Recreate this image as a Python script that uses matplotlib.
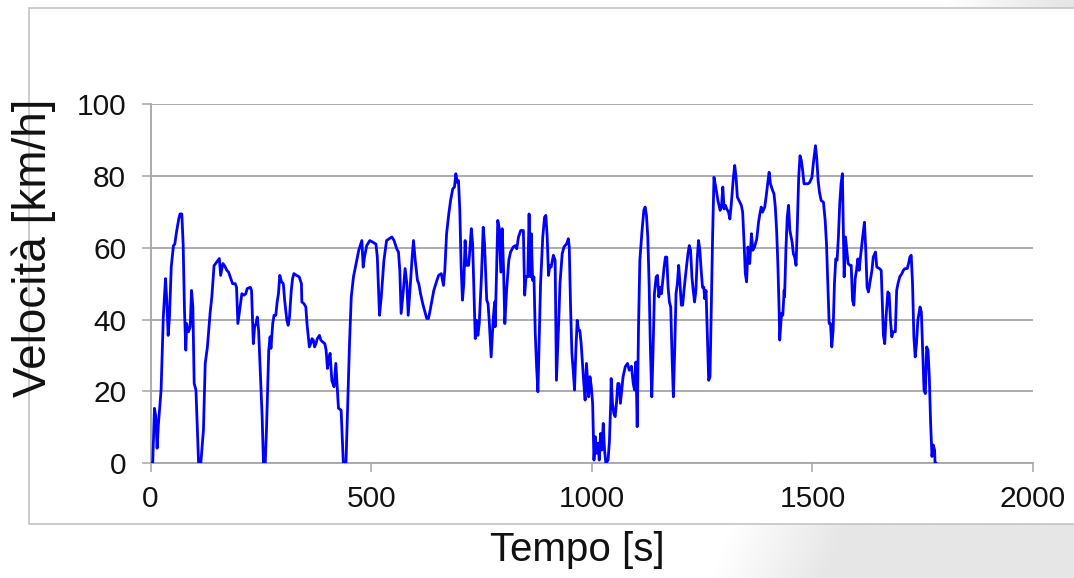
'''
Speed profile of the driving cycle: vehicle speed versus time.
'''
import numpy as np
import matplotlib.pyplot as plt
from matplotlib.patches import Rectangle

plt.rcParams['font.family'] = ['Liberation Sans', 'DejaVu Sans']

# Segment A: start to ~410 s
time_a = [0, 5, 9, 12, 15, 18, 24, 29, 34, 37,
          40, 43, 47, 52, 55, 59, 64, 67, 71, 74,
          77, 80, 82, 86, 90, 93, 96, 99, 103, 109,
          114, 120, 124, 129, 135, 139, 144, 150, 156, 159,
          164, 168, 173, 177, 182, 186, 192, 195, 198, 203,
          207, 212, 216, 219, 226, 229, 233, 236, 239, 242,
          245, 248, 253, 256, 260, 263, 268, 271, 273, 277,
          280, 284, 287, 290, 293, 297, 301, 304, 309, 312,
          315, 319, 322, 325, 331, 337, 342, 343, 348, 352,
          355, 360, 363, 366, 369, 372, 375, 378, 383, 386,
          390, 395, 398, 401, 404, 407]
speed_a = [0, 0, 15.3, 13, 4.2, 11, 20.4, 40.7, 51.4, 45,
           35.6, 40.7, 54.6, 60.6, 61, 64.4, 68, 69.4, 69.4, 61,
           42.6, 31.5, 38.9, 36.6, 38, 48.1, 43.5, 22.2, 20.4, 0,
           0, 9.3, 27.8, 32.4, 41.7, 46.3, 55, 56, 57, 52.3,
           55.6, 55, 53.7, 53.2, 51.4, 50, 50, 49, 38.9, 43.5,
           47.2, 46.8, 47.2, 48.6, 49, 48.1, 33.3, 38, 38.9, 40.7,
           37, 27.8, 13, 0, 0, 10, 31.5, 35.2, 32, 38.9,
           41.2, 41.2, 44.9, 47.2, 52.3, 50.5, 50, 45.4, 39.8, 38.4,
           40.7, 48.1, 51.4, 52.8, 52.3, 51.9, 50, 44.9, 44.4, 43.5,
           38.4, 32.4, 33.3, 34.7, 34.3, 32.4, 33.3, 34.7, 35.6, 34.3,
           33.8, 33.3, 31.5, 26.4, 28.7, 30.6]

# Segment B: ~410 s to ~925 s
time_b = [411, 416, 420, 423, 426, 432, 437, 443, 448, 451,
          455, 460, 466, 472, 479, 482, 485, 490, 497, 503,
          511, 514, 519, 523, 529, 535, 541, 547, 552, 558,
          562, 565, 568, 573, 577, 581, 584, 588, 593, 596,
          600, 605, 608, 612, 617, 621, 626, 630, 633, 638,
          642, 648, 653, 659, 664, 667, 671, 676, 680, 685,
          689, 692, 695, 698, 701, 704, 707, 710, 713, 716,
          721, 724, 727, 730, 733, 736, 739, 742, 745, 750,
          754, 757, 762, 765, 768, 772, 777, 780, 781, 784,
          787, 790, 794, 797, 800, 803, 807, 812, 816, 822,
          827, 830, 834, 839, 845, 848, 851, 855, 858, 861,
          863, 866, 869, 872, 875, 878, 881, 884, 889, 893,
          896, 899, 902, 905, 908, 913, 917, 920, 925]
speed_b = [23, 21.3, 27.8, 21.3, 15.3, 14.8, 0, 0, 20.4, 33.3,
           46.3, 51.9, 55.6, 59.3, 62, 54.6, 57.4, 60.6, 62, 61.6,
           61, 57.4, 41.2, 46.3, 56.5, 62, 62.5, 63, 62, 59.7,
           58.8, 53.7, 41.7, 48.1, 54.2, 50, 41.2, 48.1, 57.4, 62,
           56.5, 50.9, 50, 47.2, 44.4, 42.6, 40.3, 40.3, 42.1, 45.4,
           48.1, 50.5, 52.3, 52.8, 49.5, 53.7, 63.9, 69.4, 73.1, 76.4,
           76.9, 80.6, 78.2, 78.7, 70.4, 54.6, 45.4, 50, 62, 55.1,
           55.1, 59.7, 65.3, 61.1, 48.1, 34.7, 39.8, 35.6, 38.9, 51.9,
           65.7, 61.1, 45.4, 44.4, 38.9, 29.6, 40.7, 44.9, 38, 51.9,
           67.6, 65.7, 53.2, 65.3, 54.6, 38.9, 48.1, 56.5, 58.8, 60.2,
           60.6, 59.7, 63, 64.8, 64.8, 46.8, 51.9, 51.9, 69.4, 51.9,
           63.9, 50.9, 51.9, 36.1, 26.9, 19.9, 35.2, 50, 63, 68.5,
           69, 63, 52.3, 55.1, 54.6, 57.9, 56.5, 23.1, 38.9]

# Segment C: ~925 s to ~1355 s
time_c = [928, 933, 937, 943, 947, 949, 952, 955, 958, 961,
          964, 967, 970, 973, 976, 979, 982, 985, 988, 991,
          993, 996, 999, 1002, 1005, 1008, 1011, 1014, 1017, 1020,
          1023, 1026, 1029, 1032, 1037, 1040, 1043, 1044, 1047, 1050,
          1053, 1056, 1059, 1062, 1065, 1068, 1071, 1076, 1081, 1085,
          1090, 1094, 1097, 1100, 1103, 1106, 1109, 1114, 1118, 1121,
          1124, 1127, 1130, 1133, 1136, 1139, 1142, 1146, 1149, 1152,
          1155, 1158, 1161, 1164, 1167, 1170, 1173, 1176, 1179, 1182,
          1185, 1188, 1191, 1194, 1197, 1200, 1203, 1206, 1209, 1213,
          1218, 1221, 1224, 1227, 1230, 1233, 1236, 1239, 1242, 1245,
          1248, 1251, 1254, 1256, 1259, 1262, 1265, 1268, 1271, 1274,
          1277, 1281, 1286, 1291, 1294, 1297, 1300, 1303, 1306, 1310,
          1313, 1316, 1321, 1324, 1327, 1330, 1334, 1339, 1342, 1345,
          1348, 1351, 1354]
speed_c = [50, 58.3, 60.2, 61.1, 62.5, 60.2, 43.5, 30.6, 25.9, 20.4,
           31.5, 39.8, 37, 37, 33.3, 27.8, 22.2, 17.6, 27.8, 22.2,
           18.5, 24.1, 21.3, 16.7, 0.9, 7.4, 2.8, 5.6, 0.9, 8.3,
           3.7, 11.1, 3.7, 0, 0.9, 6, 16.7, 23.6, 16.7, 13.9,
           13, 16.7, 22.2, 22.2, 16.7, 20.4, 24.1, 26.9, 27.8, 25.9,
           27, 22.2, 20.4, 28.2, 10.2, 38, 56.5, 64.8, 70.4, 71.3,
           69, 63, 50, 31.5, 18.5, 31.5, 47.2, 51.9, 52.3, 46.3,
           49, 47.2, 50.9, 54.6, 57.4, 57.4, 49, 44.9, 43.5, 29.6,
           18.5, 31.5, 47.2, 50, 55.1, 50, 44, 44, 48.1, 52.8,
           58.3, 60.6, 59.3, 51.9, 48.1, 44.9, 48.1, 56.9, 62, 59.3,
           53.7, 49, 49, 45.8, 48.1, 35.2, 23.1, 24.1, 43.5, 63.9,
           79.6, 76.9, 73.1, 70.4, 71.3, 76.9, 70.8, 71.8, 70.8, 69.9,
           68, 71.8, 79.6, 82.9, 79.6, 74.1, 73.1, 71.8, 69.9, 62,
           52.8, 50.5, 60.2]

# Segment D: ~1355 s to the end of the cycle
time_d = [1358, 1362, 1365, 1369, 1374, 1378, 1381, 1384, 1387, 1392,
          1396, 1399, 1402, 1405, 1410, 1413, 1416, 1419, 1422, 1425,
          1426, 1430, 1433, 1436, 1437, 1440, 1443, 1446, 1449, 1454,
          1457, 1460, 1463, 1466, 1469, 1472, 1475, 1478, 1481, 1485,
          1490, 1494, 1499, 1502, 1507, 1510, 1513, 1516, 1520, 1525,
          1529, 1532, 1535, 1538, 1541, 1544, 1547, 1550, 1553, 1556,
          1559, 1562, 1565, 1568, 1572, 1575, 1578, 1581, 1585, 1588,
          1591, 1594, 1597, 1600, 1603, 1606, 1609, 1614, 1618, 1621,
          1624, 1627, 1630, 1635, 1638, 1643, 1646, 1652, 1656, 1658,
          1661, 1664, 1667, 1671, 1674, 1677, 1680, 1683, 1688, 1691,
          1694, 1698, 1703, 1706, 1710, 1715, 1718, 1721, 1724, 1727,
          1730, 1733, 1736, 1739, 1744, 1747, 1750, 1753, 1756, 1759,
          1762, 1765, 1768, 1771, 1774, 1777, 1778, 1780]
speed_d = [55.6, 63.9, 59.3, 60.2, 62.5, 67.1, 69.4, 71.3, 69.9, 71.3,
           75, 78.2, 81, 77.8, 75.9, 75, 71.3, 64.8, 54.6, 40.7,
           34.3, 41.7, 41.2, 48.1, 46.3, 59.3, 68.5, 71.8, 64.8, 61.6,
           58.3, 57.4, 55.1, 66.7, 79.6, 85.6, 84.3, 81.5, 77.8, 77.8,
           77.8, 78.2, 79.6, 83.3, 88.4, 84.7, 78.7, 75.5, 73.1, 72.7,
           67.6, 61.1, 50, 38.9, 38.9, 32.4, 37, 50, 56.9, 56.5,
           63, 72.2, 77.8, 80.6, 51.9, 63, 59.3, 55.6, 55.1, 55.1,
           45.4, 44, 51.4, 53.7, 56.9, 53.7, 57.4, 63, 67.1, 59.3,
           49, 47.7, 50, 53.7, 57.4, 58.8, 54.6, 54.2, 53.7, 46.3,
           35.6, 33.3, 40.7, 47.7, 47.2, 39.8, 35.2, 36.6, 36.6, 48.1,
           50, 51.9, 52.8, 53.7, 54.2, 54.2, 55.6, 57.4, 57.9, 50,
           35.2, 29.6, 33.3, 39.8, 43.5, 42.1, 31.5, 20.4, 19.4, 32.4,
           31.5, 24.1, 11.1, 1.9, 5.1, 3.7, 0, 0]

x_ticks = [0, 500, 1000, 1500, 2000]
y_ticks = [0, 20, 40, 60, 80, 100]

GRID_COLOR = '#a6a6a6'


def add_background(fig):
    '''
    Soft grey shading behind the chart frame on the right-hand side.
    '''
    bg = fig.add_axes([0, 0, 1, 1], zorder=-10)
    nx, ny = 400, 200
    xx, yy = np.meshgrid(np.linspace(0, 1, nx), np.linspace(0, 1, ny))
    # yy = 0 is the top row (origin='upper'); shading starts further right at the top
    x_start = 0.66 + 0.22 * (1 - yy)
    shade = np.clip((xx - x_start) * 0.9, 0, 0.10)
    bg.imshow(1 - shade, cmap='gray', vmin=0, vmax=1, aspect='auto',
              extent=[0, 1, 0, 1], origin='upper')
    bg.set_xlim(0, 1)
    bg.set_ylim(0, 1)
    bg.axis('off')
    # white chart frame
    frame = Rectangle((29 / 1074, 54 / 578), 1.05, 516 / 578,
                      transform=fig.transFigure, facecolor='white',
                      edgecolor='#c4c4c4', linewidth=1.2, zorder=-5)
    fig.patches.append(frame)


def main():
    fig = plt.figure(figsize=(10.74, 5.78), dpi=100)
    add_background(fig)

    ax = fig.add_axes([150.5 / 1074, 114.7 / 578, 882.5 / 1074, 359.3 / 578])
    ax.set_facecolor('none')

    time_all = time_a + time_b + time_c + time_d
    speed_all = speed_a + speed_b + speed_c + speed_d
    ax.plot(time_all, speed_all, color='#0000ff', linewidth=2.0,
            solid_joinstyle='round', zorder=3)

    ax.set_xlim(0, 2000)
    ax.set_ylim(0, 100)
    ax.set_xticks(x_ticks)
    ax.set_yticks(y_ticks)
    ax.yaxis.grid(True, color=GRID_COLOR, linewidth=1.3)
    ax.set_axisbelow(True)

    for side in ['top', 'right']:
        ax.spines[side].set_visible(False)
    for side in ['left', 'bottom']:
        ax.spines[side].set_color(GRID_COLOR)
        ax.spines[side].set_linewidth(1.3)

    ax.tick_params(axis='both', direction='out', length=6.5, width=1.1,
                   color=GRID_COLOR, labelsize=21.5, labelcolor='#111111')
    ax.tick_params(axis='y', pad=11)
    ax.tick_params(axis='x', pad=9)

    fig.text(34 / 1074, 1 - 248 / 578, 'Velocità [km/h]', rotation=90,
             ha='center', va='center', fontsize=33, color='#111111')
    fig.text(577 / 1074, 1 - 550 / 578, 'Tempo [s]',
             ha='center', va='center', fontsize=29, color='#111111')

    fig.savefig('out.png', dpi=100)
    plt.close(fig)


if __name__ == '__main__':
    main()
